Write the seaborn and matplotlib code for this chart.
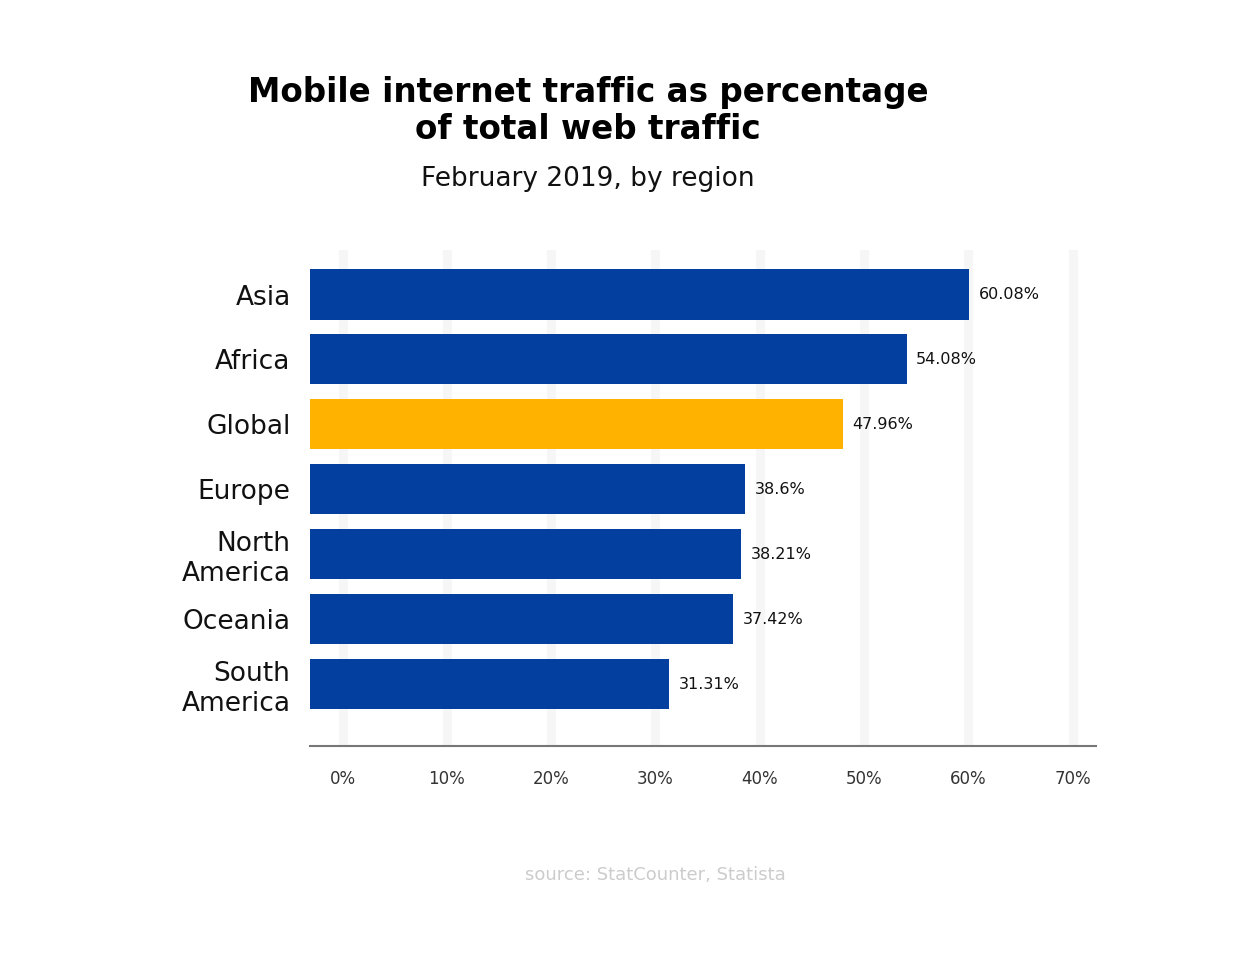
import matplotlib
matplotlib.use("Agg")
import matplotlib.pyplot as plt
import seaborn as sns
import pandas as pd

regions = ["Asia", "Africa", "Global", "Europe", "North\nAmerica", "Oceania", "South\nAmerica"]
values = [60.08, 54.08, 47.96, 38.6, 38.21, 37.42, 31.31]
colors = ["#033f9f", "#033f9f", "#ffb300", "#033f9f", "#033f9f", "#033f9f", "#033f9f"]
xticks = [0, 10, 20, 30, 40, 50, 60, 70]
xticklabels = ["0%", "10%", "20%", "30%", "40%", "50%", "60%", "70%"]

sns.set_theme(style="white")
plt.rcParams["font.family"] = ["DejaVu Sans"]

df = pd.DataFrame({"region": regions, "value": values})

W, H = 1242, 956
fig = plt.figure(figsize=(W / 100, H / 100), dpi=100)
ax = fig.add_axes([310 / W, (H - 746) / H, (1096 - 310) / W, (746 - 250) / H])

sns.barplot(data=df, x="value", y="region", hue="region", palette=colors,
            orient="h", width=0.77, legend=False, ax=ax, saturation=1,
            linewidth=0, edgecolor="none")

xmin, xmax = -3.12, 72.25
ax.set_xlim(xmin, xmax)
ax.set_ylim(6.95, -0.685)

# bars start at the left edge of the plot area, end at their value
for p in ax.patches:
    end = p.get_x() + p.get_width()
    p.set_x(xmin)
    p.set_width(end - xmin)

for i, v in enumerate(values):
    ax.annotate(f"{v:g}%", xy=(v, i), xytext=(7, 0), textcoords="offset points",
                va="center", ha="left", fontsize=11.5, color="#111111")

ax.set_xticks(xticks)
ax.set_xticklabels(xticklabels, fontsize=12, color="#333333")
ax.set_xlabel("")
ax.set_ylabel("")
ax.tick_params(axis="x", length=0, pad=17)
ax.tick_params(axis="y", length=0, pad=14, labelsize=19)
for lbl in ax.get_yticklabels():
    lbl.set_multialignment("right")
    lbl.set_color("#111111")

ax.grid(axis="x", color="#f6f6f6", linewidth=6.5)
ax.grid(axis="y", visible=False)
ax.set_axisbelow(True)
for s in ["top", "right", "left"]:
    ax.spines[s].set_visible(False)
ax.spines["bottom"].set_color("#777777")
ax.spines["bottom"].set_linewidth(1.5)

fig.text(588 / W, 1 - 111 / H, "Mobile internet traffic as percentage\nof total web traffic",
         ha="center", va="center", fontsize=23.5, fontweight="bold", color="#000000",
         linespacing=1.15)
fig.text(588 / W, 1 - 179 / H, "February 2019, by region", ha="center", va="center",
         fontsize=19, color="#111111")
fig.text(655 / W, 1 - 875 / H, "source: StatCounter, Statista", ha="center", va="center",
         fontsize=13, color="#cccccc")

fig.savefig("out.png", dpi=100, facecolor="white")
